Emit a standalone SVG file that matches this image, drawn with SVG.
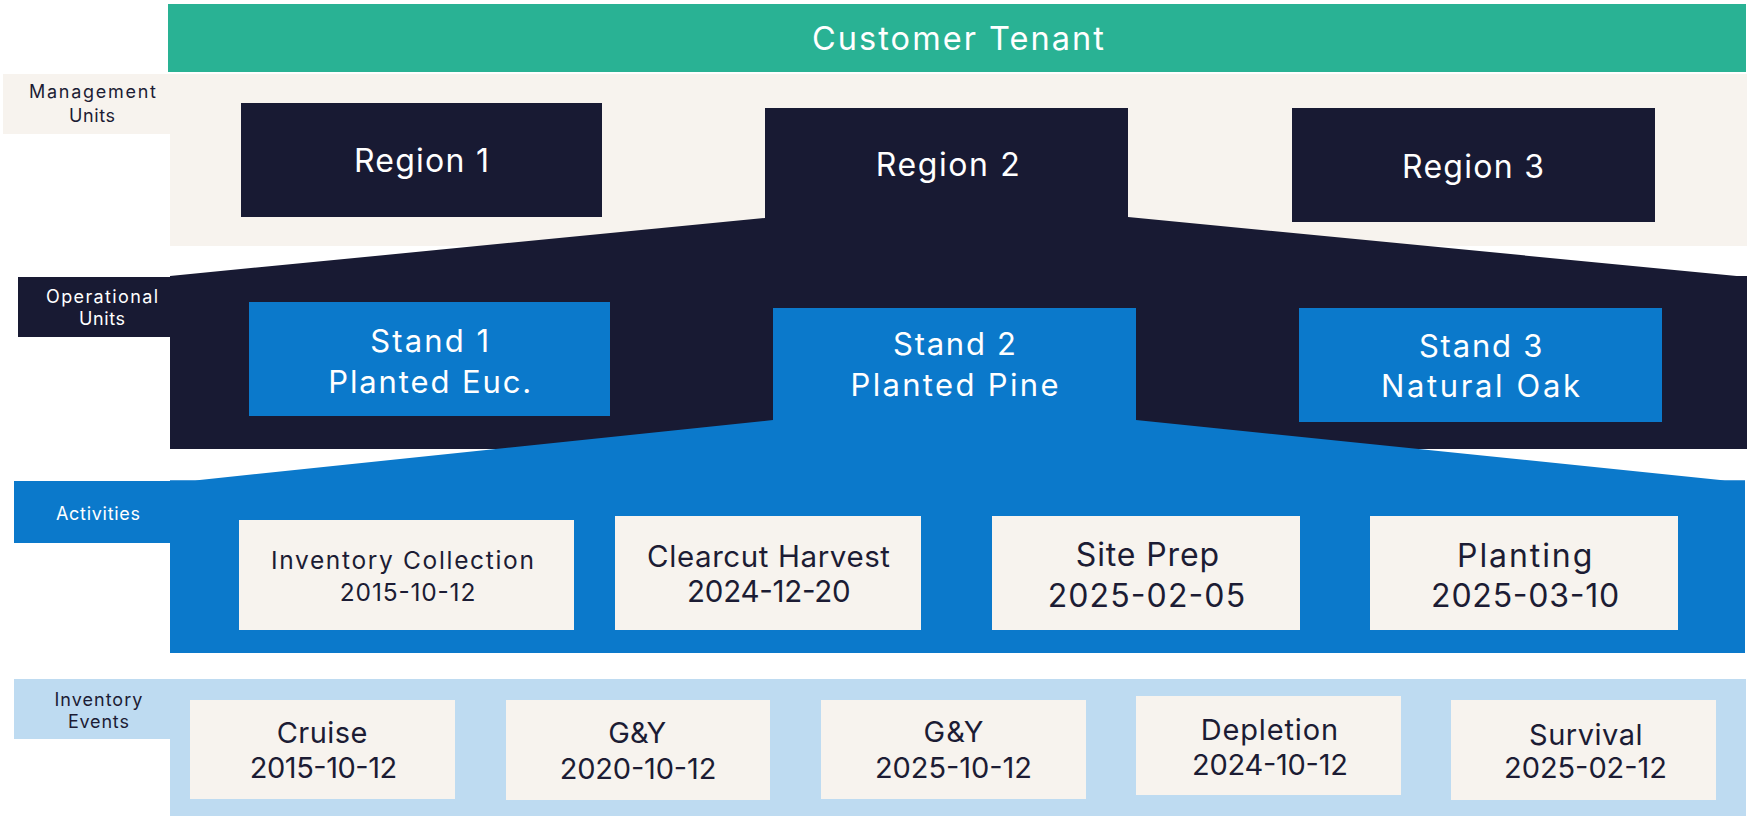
<svg xmlns="http://www.w3.org/2000/svg" width="1748" height="816" viewBox="0 0 1748 816">
<style>
text{font-family:Inter,"Open Sans","DejaVu Sans",sans-serif;text-anchor:middle;font-weight:400}
.w{fill:#ffffff}.d{fill:#1c1c34}
.navy{fill:#181a33}.blue{fill:#0b79cb}.beige{fill:#f7f3ee}.lblue{fill:#bedbf1}.green{fill:#29b294}
.card{fill:#f7f3ee}
.s-ct{font-size:32.5px}.s-reg{font-size:32px}.s-st{font-size:31px}.s-side{font-size:18px}
.s-ic{font-size:24.5px}.s-cc{font-size:29.5px}.s-sp{font-size:32px}.s-ev{font-size:29px}
</style>
<rect width="1748" height="816" fill="#ffffff"/>
<g id="bands">
<rect class="green" x="168" y="4" width="1578" height="68"/>
<rect class="beige" x="170" y="74" width="1577" height="172"/>
<rect class="navy" x="170" y="276" width="1577" height="173"/>
<rect class="blue" x="170" y="480.5" width="1575" height="172.5"/>
<rect class="lblue" x="170" y="679" width="1576" height="137"/>
</g>
<g id="connectors">
<polygon class="navy" points="765,218 1128,217 1747,277 1747,290 170,290 170,276"/>
<polygon class="blue" points="773,420 1136,420 1725,480.5 1745,480.5 1745,490 170,490 170,480.5 195,480.5"/>
</g>
<g id="tenant">
<text class="w s-ct" x="958" y="50" textLength="292">Customer Tenant</text>
</g>
<g id="label-management">
<rect class="beige" x="3" y="74" width="167" height="60"/>
<text class="d s-side" x="92.5" y="98.3" textLength="127">Management</text>
<text class="d s-side" x="92" y="121.7" textLength="46">Units</text>
</g>
<g id="label-operational">
<rect class="navy" x="18" y="277" width="152" height="60"/>
<text class="w s-side" x="102" y="302.7" textLength="112">Operational</text>
<text class="w s-side" x="102" y="325" textLength="46">Units</text>
</g>
<g id="label-activities">
<rect class="blue" x="14" y="481" width="156" height="62"/>
<text class="w s-side" x="98" y="520.3" textLength="84">Activities</text>
</g>
<g id="label-inventory">
<rect class="lblue" x="14" y="679" width="156" height="60"/>
<text class="d s-side" x="98.4" y="705.7" textLength="88">Inventory</text>
<text class="d s-side" x="98.4" y="728.3" textLength="61">Events</text>
</g>
<g id="region1">
<rect class="navy" x="241" y="103" width="361" height="114"/>
<text class="w s-reg" x="421.4" y="172.3" textLength="135">Region 1</text>
</g>
<g id="region2">
<rect class="navy" x="765" y="108" width="363" height="112"/>
<text class="w s-reg" x="947.7" y="176" textLength="144">Region 2</text>
</g>
<g id="region3">
<rect class="navy" x="1292" y="108" width="363" height="114"/>
<text class="w s-reg" x="1473" y="177.7" textLength="142">Region 3</text>
</g>
<g id="stand1">
<rect class="blue" x="249" y="302" width="361" height="114"/>
<text class="w s-st" x="429.7" y="351.7" textLength="119">Stand 1</text>
<text class="w s-st" x="429.7" y="392.7" textLength="203">Planted Euc.</text>
</g>
<g id="stand2">
<rect class="blue" x="773" y="308" width="363" height="113"/>
<text class="w s-st" x="954.5" y="355" textLength="123">Stand 2</text>
<text class="w s-st" x="954.5" y="396" textLength="208">Planted Pine</text>
</g>
<g id="stand3">
<rect class="blue" x="1299" y="308" width="363" height="114"/>
<text class="w s-st" x="1480.7" y="357.3" textLength="123.5">Stand 3</text>
<text class="w s-st" x="1480.5" y="397" textLength="199">Natural Oak</text>
</g>
<g id="act-inventory">
<rect class="card" x="239" y="520" width="335" height="110"/>
<text class="d s-ic" x="402.4" y="569.3" textLength="263">Inventory Collection</text>
<text class="d s-ic" x="407.6" y="601" textLength="135.5">2015-10-12</text>
</g>
<g id="act-clearcut">
<rect class="card" x="615" y="516" width="306" height="114"/>
<text class="d s-cc" x="768.5" y="566.7" textLength="243">Clearcut Harvest</text>
<text class="d s-cc" x="768.9" y="602" textLength="163.6">2024-12-20</text>
</g>
<g id="act-siteprep">
<rect class="card" x="992" y="516" width="308" height="114"/>
<text class="d s-sp" x="1147.4" y="566" textLength="143.3">Site Prep</text>
<text class="d s-sp" x="1146.4" y="606.7" textLength="197.4">2025-02-05</text>
</g>
<g id="act-planting">
<rect class="card" x="1370" y="516" width="308" height="114"/>
<text class="d s-sp" x="1524.7" y="566.7" textLength="135.2">Planting</text>
<text class="d s-sp" x="1525.2" y="606.7" textLength="188.2">2025-03-10</text>
</g>
<g id="ev-cruise">
<rect class="card" x="190" y="700" width="265" height="99"/>
<text class="d s-ev" x="322" y="743.3" textLength="90.7">Cruise</text>
<text class="d s-ev" x="323.5" y="778.3" textLength="147.5">2015-10-12</text>
</g>
<g id="ev-gy1">
<rect class="card" x="506" y="700" width="264" height="100"/>
<text class="d s-ev" x="637.2" y="743" textLength="58">G&amp;Y</text>
<text class="d s-ev" x="638" y="779" textLength="156.7">2020-10-12</text>
</g>
<g id="ev-gy2">
<rect class="card" x="821" y="700" width="265" height="99"/>
<text class="d s-ev" x="953.5" y="742" textLength="60">G&amp;Y</text>
<text class="d s-ev" x="953.5" y="777.5" textLength="157">2025-10-12</text>
</g>
<g id="ev-depletion">
<rect class="card" x="1136" y="696" width="265" height="99"/>
<text class="d s-ev" x="1269.4" y="740" textLength="137.4">Depletion</text>
<text class="d s-ev" x="1270" y="775" textLength="155.8">2024-10-12</text>
</g>
<g id="ev-survival">
<rect class="card" x="1451" y="700" width="265" height="100"/>
<text class="d s-ev" x="1585.8" y="745" textLength="113.6">Survival</text>
<text class="d s-ev" x="1585.5" y="778.3" textLength="162.8">2025-02-12</text>
</g>
</svg>
